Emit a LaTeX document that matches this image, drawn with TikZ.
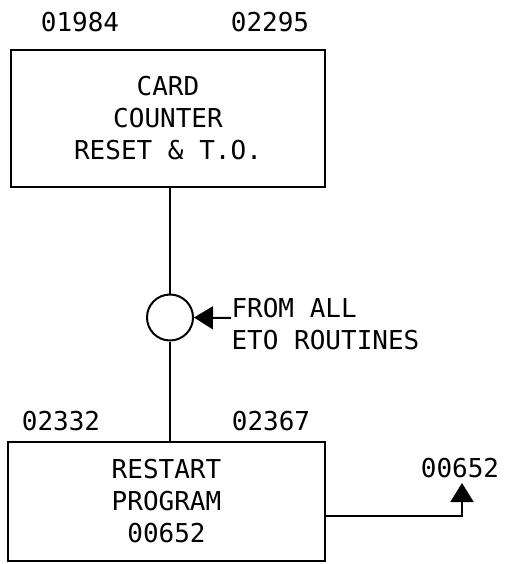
\documentclass[tikz,border=0pt]{standalone}
\usepackage{fontspec}
\setmainfont{DejaVu Sans Mono}
\usetikzlibrary{
arrows.meta,
positioning
}

\begin{document}
\begin{tikzpicture}[
x=1pt, y=-1pt,
font=\fontsize{26}{32}\selectfont,
box/.style={
rectangle,
draw,
line width=2.2pt,
align=center
},
conn/.style={circle, draw, line width=2pt, minimum size=46pt, inner sep=0pt},
link/.style={line width=2pt},
arrow/.style={-{Triangle[length=19pt,width=23pt]},line width=2pt}
]
\useasboundingbox (0,0) rectangle (505,564);

\node[box, minimum width=314pt, minimum height=137pt] (card) at (168,118.5) {CARD\\COUNTER\\RESET \& T.O.};
\node (cardlo) at (80,22) {01984};
\node (cardhi) at (270,22) {02295};

\node[conn] (eto) at (170,317.5) {};
\node[anchor=west, align=left] (etolbl) at (228,324) {FROM ALL\\ETO ROUTINES};
\coordinate (etoin) at (231,318);

\node[box, minimum width=317pt, minimum height=119pt] (restart) at (166.5,501.5) {RESTART\\PROGRAM\\00652};
\node (restartlo) at (61,421.5) {02332};
\node (restarthi) at (271,421.5) {02367};

\coordinate (ret) at (462,483);
\node (retlbl) at (460,468) {00652};

\draw[link] (card.south -| eto) -- (eto);
\draw[link] (eto) -- (restart.north -| eto);
\draw[arrow] (etoin) -- (eto.east);
\draw[arrow] ([yshift=-14pt]restart.east) -| (ret);

\end{tikzpicture}
\end{document}
